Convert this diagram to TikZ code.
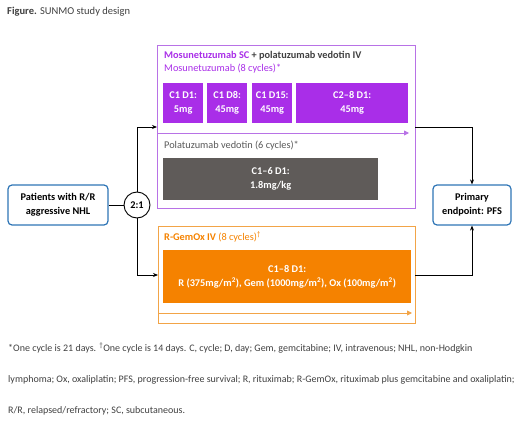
\documentclass[tikz,border=0pt]{standalone}
\usepackage{fontspec}
\setmainfont{Carlito}
\usetikzlibrary{arrows.meta}

\definecolor{mosunpurple}{HTML}{A92EE8}
\definecolor{mosunline}{HTML}{B872E6}
\definecolor{polagray}{HTML}{5F5B59}
\definecolor{gemorange}{HTML}{F58200}
\definecolor{gemline}{HTML}{F2A447}
\definecolor{patblue}{HTML}{2E75B6}
\definecolor{textgray}{HTML}{595959}
\definecolor{darkgray}{HTML}{404040}

\newcommand{\boxfont}{\fontsize{10.3}{14}\selectfont}

\tikzset{
  armbox/.style={draw, line width=1.1pt, anchor=north west, inner sep=0pt},
  dosebox/.style={fill=#1, text=white, font=\boxfont\bfseries, align=center,
    anchor=north west, inner sep=0pt},
  armlabel/.style={anchor=west, inner sep=0pt, font=\boxfont},
  endbox/.style={draw=patblue, line width=1.2pt, rounded corners=4pt, align=center,
    font=\boxfont\bfseries, minimum height=40, inner sep=0pt},
  flow/.style={line width=0.9pt, -{Stealth[length=5pt,width=4pt]}},
  timeline/.style={line width=0.9pt, -{Triangle[length=5pt,width=5pt]}},
  footnote/.style={anchor=west, inner sep=0pt, font=\fontsize{10}{12}\selectfont, text=darkgray}
}

\begin{document}
\begin{tikzpicture}[x=1pt, y=-1pt]
\useasboundingbox (0,0) rectangle (520,428);

\node[anchor=west, inner sep=0pt, font=\fontsize{10.5}{12}\selectfont, text=darkgray] (title) at (7,12)
  {\textbf{Figure.} SUNMO study design};

% mosunetuzumab + polatuzumab vedotin arm
\node[armbox, draw=mosunline, minimum width=258, minimum height=163] (mosun) at (157,45) {};
\node[armlabel, text=mosunpurple, font=\boxfont\bfseries] (mosunhead) at (164,56)
  {Mosunetuzumab SC \textcolor{darkgray}{+ polatuzumab vedotin IV}};
\node[armlabel, text=mosunpurple] (mosuncyc) at (164,69) {Mosunetuzumab (8 cycles)*};
\node[dosebox=mosunpurple, minimum width=40, minimum height=40] (cA) at (163,83) {C1 D1:\\5mg};
\node[dosebox=mosunpurple, minimum width=40, minimum height=40] (cB) at (207,83) {C1 D8:\\45mg};
\node[dosebox=mosunpurple, minimum width=40, minimum height=40] (cC) at (252,83) {C1 D15:\\45mg};
\node[dosebox=mosunpurple, minimum width=112, minimum height=40] (cD) at (296,83) {C2--8 D1:\\45mg};
\coordinate (mosunT0) at (158,133);
\coordinate (mosunT1) at (409,133);
\draw[timeline, mosunline] (mosunT0) -- (mosunT1);
\node[armlabel, text=textgray] (polacyc) at (164,146) {Polatuzumab vedotin (6 cycles)*};
\node[dosebox=polagray, minimum width=215, minimum height=42] (pola) at (163,158) {C1--6 D1:\\1.8mg/kg};

% R-GemOx arm
\node[armbox, draw=gemline, minimum width=257, minimum height=97] (gemox) at (158,226) {};
\node[armlabel, text=gemorange] (gemhead) at (164,237)
  {\textbf{R-GemOx IV} (8 cycles)\textsuperscript{\textdagger}};
\node[dosebox=gemorange, minimum width=248, minimum height=53] (gemdose) at (163,250)
  {C1--8 D1:\\R (375mg/m\textsuperscript{2}), Gem (1000mg/m\textsuperscript{2}), Ox (100mg/m\textsuperscript{2})};
\coordinate (gemT0) at (158,313);
\coordinate (gemT1) at (412,313);
\draw[timeline, gemline] (gemT0) -- (gemT1);

% patients, randomisation, endpoint
\node[endbox, minimum width=100] (patients) at (58,205) {Patients with R/R\\aggressive NHL};
\node[draw, circle, line width=0.9pt, minimum size=26, inner sep=0pt, font=\boxfont\bfseries] (ratio) at (137,205) {2:1};
\node[endbox, minimum width=78] (pfs) at (472,205) {Primary\\endpoint: PFS};

\coordinate (mosunin) at (157,127);
\coordinate (mosunout) at (415,127);
\coordinate (gemin) at (158,275);
\coordinate (gemout) at (415,275);

\draw[line width=0.9pt] (patients) -- (ratio);
\draw[flow] (ratio.north) |- (mosunin);
\draw[flow] (ratio.south) |- (gemin);
\draw[flow] (mosunout) -| (pfs.north);
\draw[flow] (gemout) -| (pfs.south);

% footnotes
\node[footnote] (fnA) at (8,348) {*One cycle is 21 days. \textsuperscript{\textdagger}One cycle is 14 days. C, cycle; D, day; Gem, gemcitabine; IV, intravenous; NHL, non-Hodgkin};
\node[footnote] (fnB) at (8,380) {lymphoma; Ox, oxaliplatin; PFS, progression-free survival; R, rituximab; R-GemOx, rituximab plus gemcitabine and oxaliplatin;};
\node[footnote] (fnC) at (8,411) {R/R, relapsed/refractory; SC, subcutaneous.};
\end{tikzpicture}
\end{document}
